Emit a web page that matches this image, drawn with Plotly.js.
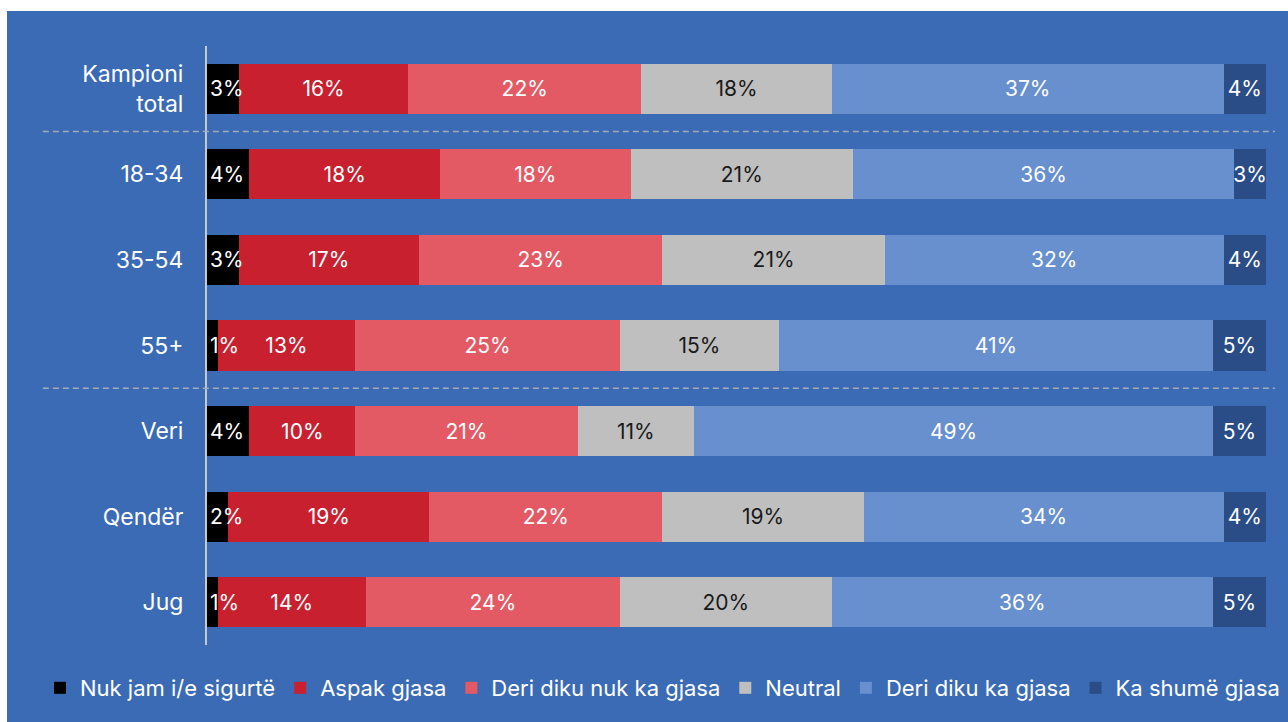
<!DOCTYPE html>
<html><head><meta charset="utf-8">
<script src="https://cdn.plot.ly/plotly-3.0.1.min.js"></script>
<style>html,body{margin:0;padding:0;background:#ffffff;}#chart{position:absolute;left:7px;top:11px;width:1281px;height:711px;}</style>
</head><body><div id="chart"></div>
<script>
const categories = ['Kampioni<br>total','18-34','35-54','55+','Veri','Qendër','Jug'];
const seriesNames = ['Nuk jam i/e sigurtë','Aspak gjasa','Deri diku nuk ka gjasa','Neutral','Deri diku ka gjasa','Ka shumë gjasa'];
const nukJam   = [3,4,3,1,4,2,1];
const aspak    = [16,18,17,13,10,19,14];
const deriNuk  = [22,18,23,25,21,22,24];
const neutral  = [18,21,21,15,11,19,20];
const deriKa   = [37,36,32,41,49,34,36];
const kaShume  = [4,3,4,5,5,4,5];
const separatorsAfter = [0.5, 3.5];

const seriesValues = [nukJam, aspak, deriNuk, neutral, deriKa, kaShume];
const colors = ['#000000','#c9202f','#e35a64','#bfbfbf','#6890cf','#2a4d88'];
const textColors = ['#ffffff','#ffffff','#ffffff','#1a1a1a','#ffffff','#ffffff'];
const FONT = 'Inter, "Open Sans", sans-serif';

const traces = seriesValues.map((vals, i) => ({
  type: 'bar',
  orientation: 'h',
  name: seriesNames[i],
  y: categories,
  x: vals,
  text: i === 0 ? vals.map(() => '') : vals.map(v => v + '%'),
  textposition: 'inside',
  insidetextanchor: 'middle',
  textangle: 0,
  constraintext: 'none',
  cliponaxis: false,
  textfont: {family: FONT, size: 21, color: textColors[i]},
  marker: {color: colors[i], line: {width: 0}},
  hoverinfo: 'skip'
}));

// labels of the narrow first segment, drawn on an overlaying axis so later segments don't cover them
traces.push({
  type: 'bar', orientation: 'h', xaxis: 'x2', yaxis: 'y',
  y: categories, x: nukJam,
  text: nukJam.map(v => v + '%'),
  textposition: 'inside', insidetextanchor: 'start',
  textangle: 0, constraintext: 'none', cliponaxis: false,
  textfont: {family: FONT, size: 21, color: textColors[0]},
  marker: {color: 'rgba(0,0,0,0)', line: {width: 0}},
  showlegend: false, hoverinfo: 'skip'
});

const shapes = separatorsAfter.map(y => ({
  type: 'line', xref: 'paper', yref: 'y',
  x0: -0.155, x1: 1.0085, y0: y, y1: y,
  line: {color: '#a4abb8', width: 1.5, dash: '6px,4px'}
}));

const layout = {
  width: 1281, height: 711,
  paper_bgcolor: '#3a6bb4',
  plot_bgcolor: 'rgba(0,0,0,0)',
  margin: {l: 200, r: 22, t: 35, b: 77},
  barmode: 'stack',
  bargap: 0.415,
  showlegend: true,
  font: {family: FONT, color: '#ffffff'},
  xaxis: {range: [0, 100], visible: false, fixedrange: true},
  xaxis2: {range: [0, 100], visible: false, fixedrange: true, overlaying: 'x'},
  yaxis: {
    type: 'category', autorange: 'reversed',
    showline: true, linecolor: '#c8c8c8', linewidth: 2,
    showgrid: false, zeroline: false, ticks: '',
    ticklabelstandoff: 17,
    tickfont: {family: FONT, size: 23, color: '#ffffff'},
    fixedrange: true
  },
  legend: {
    orientation: 'h', xref: 'paper', yref: 'paper',
    x: -0.1577, y: -0.0718, xanchor: 'left', yanchor: 'middle',
    font: {family: FONT, size: 22, color: '#ffffff'},
    bgcolor: 'rgba(0,0,0,0)', traceorder: 'normal'
  },
  shapes: shapes
};

Plotly.newPlot('chart', traces, layout, {displayModeBar: false, staticPlot: true});
</script>
</body></html>
